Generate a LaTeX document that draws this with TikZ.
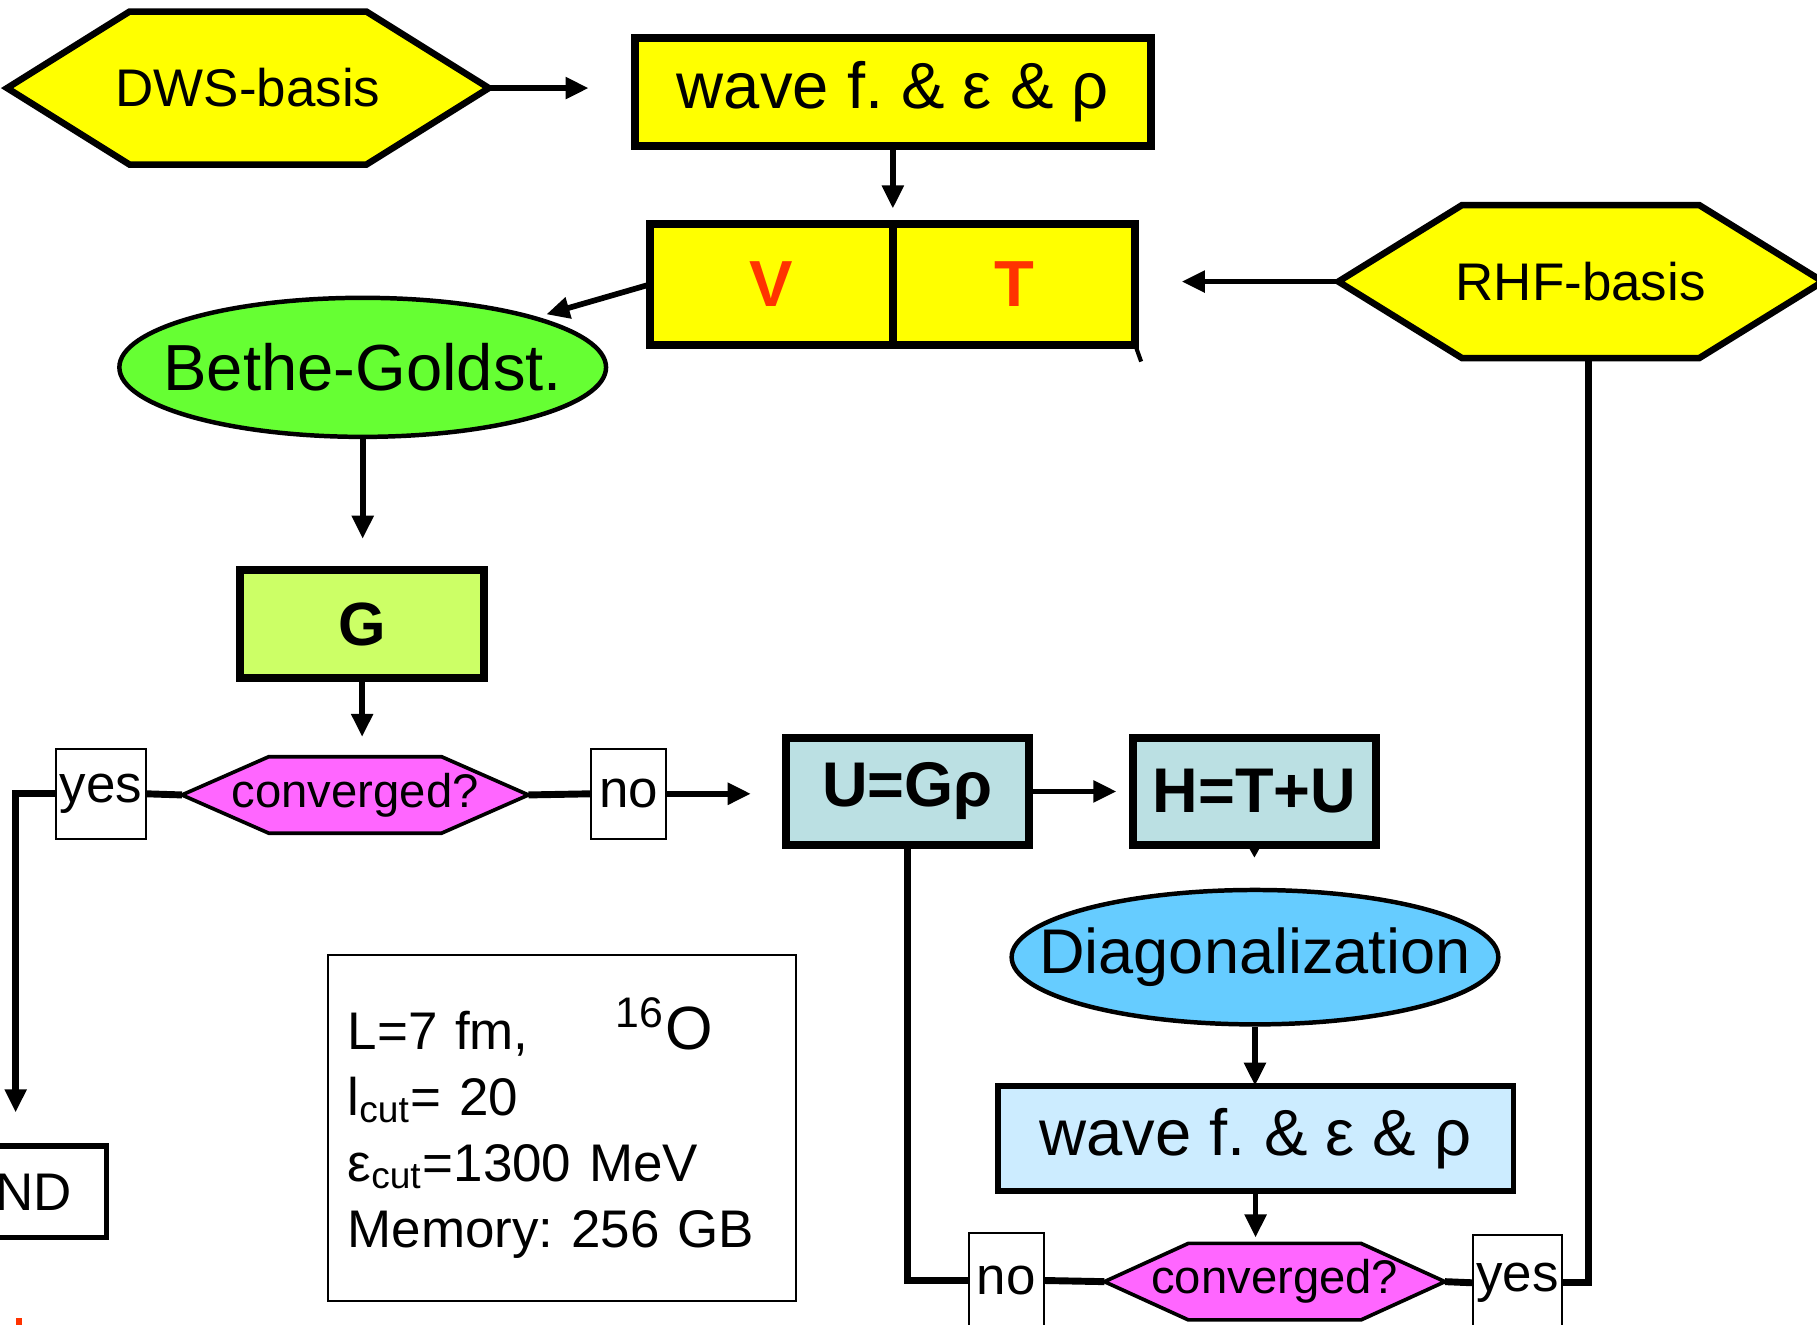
\documentclass[tikz,border=0pt]{standalone}
\usepackage{fontspec}
\setmainfont{Liberation Sans}
\frenchspacing
\usetikzlibrary{shapes.geometric,shapes.symbols,positioning,arrows.meta}

\definecolor{basisyellow}{HTML}{FFFF00}
\definecolor{potred}{HTML}{FF3300}
\definecolor{bggreen}{HTML}{66FF33}
\definecolor{glime}{HTML}{CCFF66}
\definecolor{convpink}{HTML}{FF66FF}
\definecolor{hamteal}{HTML}{BBE0E3}
\definecolor{diagblue}{HTML}{66CCFF}
\definecolor{wavesky}{HTML}{CCECFF}

\tikzset{
	flowpicture/.style = {
		font = \fontsize{13}{15}\selectfont,
		arrow/.style = {
			draw,
			line width = 1.4pt,
			-{Triangle[length=0.2cm, width=0.18cm]},
		},
		joint/.style = {
			draw,
			line width = 1.7pt,
		}
	},
	bigfont/.style = {
		font = \fontsize{16}{18}\selectfont
	},
	boxnode/.style = {
		rectangle,
		draw = black,
		line width = 2pt,
		inner sep = 0pt,
		outer sep = 0pt
	},
	hexnode/.style = {
		signal,
		signal to = east and west,
		draw = black,
		line width = 1.6pt,
		inner ysep = 0pt,
		outer sep = 0pt
	},
	basis/.style = {
		hexnode,
		fill = basisyellow,
		signal pointer angle = 64,
		minimum height = 1.32cm
	},
	query/.style = {
		hexnode,
		fill = convpink,
		line width = 0.9pt,
		signal pointer angle = 48,
		inner xsep = -0.32cm,
		minimum height = 0.66cm,
		font = \fontsize{11.6}{13}\selectfont
	},
	answer/.style = {
		rectangle,
		draw = black,
		fill = white,
		line width = 0.5pt,
		inner sep = 0pt,
		outer sep = 0pt,
		minimum height = 0.78cm
	},
	blob/.style = {
		ellipse,
		draw = black,
		line width = 1.1pt,
		inner xsep = -2cm,
		inner ysep = 0pt,
		minimum width = 4.2cm
	},
	potential/.style = {
		boxnode,
		fill = basisyellow,
		text = potred,
		minimum width = 2.095cm,
		minimum height = 1.05cm,
		font = \fontsize{16}{18}\selectfont\bfseries
	},
	field/.style = {
		boxnode,
		fill = hamteal,
		minimum width = 2.1cm,
		minimum height = 0.92cm,
		font = \fontsize{15.5}{18}\selectfont\bfseries
	}
}

\begin{document}
\begin{tikzpicture}[flowpicture]
	\useasboundingbox (0,0) rectangle (15.68,-11.43);

	% self-consistent G-matrix loop
	\node[basis, inner xsep = -0.12cm] (DWS) at (2.14,-0.76) {DWS-basis};
	\node[boxnode, bigfont, fill = basisyellow, minimum width = 4.45cm, minimum height = 0.93cm] (W1) at (7.705,-0.795) {wave f.\ \& ε \& ρ};
	\node[potential] (V) at (6.655,-2.455) {V};
	\node[potential, right = 0pt of V] (T) {T};
	\node[basis, inner xsep = -0.055cm, signal pointer angle = 63.5] (RHF) at (13.64,-2.43) {RHF-basis};
	\node[blob, bigfont, fill = bggreen, minimum height = 1.2cm] (BG) at (3.13,-3.17) {Bethe-Goldst.};
	\node[boxnode, fill = glime, minimum width = 2.11cm, minimum height = 0.93cm, font = \fontsize{15}{18}\selectfont\bfseries] (G) at (3.125,-5.385) {G};
	\node[query, signal pointer angle = 47.5] (C1) at (3.065,-6.86) {converged?};
	\node[answer, minimum width = 0.78cm] (Y1) at (0.87,-6.85) {yes};
	\node[answer, minimum width = 0.65cm] (N1) at (5.425,-6.85) {no};
	\node[boxnode, line width = 1.4pt, minimum width = 1.57cm, minimum height = 0.79cm] (E) at (0.135,-10.285) {END};

	% Hartree-Fock part
	\node[field] (U) at (7.83,-6.83) {U=Gρ};
	\node[field] (H) at (10.825,-6.83) {H=T+U};
	\node[blob, fill = diagblue, minimum height = 1.16cm, font = \fontsize{15.5}{18}\selectfont] (D) at (10.83,-8.26) {Diagonalization};
	\node[boxnode, bigfont, fill = wavesky, line width = 1.4pt, minimum width = 4.45cm, minimum height = 0.91cm] (W2) at (10.835,-9.825) {wave f.\ \& ε \& ρ};
	\node[query, signal pointer angle = 49] (C2) at (11.0,-11.06) {converged?};
	\node[answer, minimum width = 0.65cm, minimum height = 0.82cm] (N2) at (8.685,-11.05) {no};
	\node[answer, minimum width = 0.77cm, minimum height = 0.82cm] (Y2) at (13.095,-11.07) {yes};

	% run parameters
	\node[answer, align = left, text width = 3.7cm, inner xsep = 0.17cm, minimum height = 2.99cm, font = \fontsize{13}{16.2}\selectfont] (info) at (4.85,-9.735) {L=7 fm,\hspace{0.75cm}{\fontsize{15}{16}\selectfont\textsuperscript{16}O}\\
		l\textsubscript{cut}= 20\\
		ε\textsubscript{cut}=1300 MeV\\
		Memory: 256 GB};

	\draw[arrow, shorten >= 0.4cm] (DWS.east) -- (DWS.east -| W1.west);
	\draw[arrow, shorten >= 0.13cm] (W1.south) -- (W1.south |- V.north);
	\draw[arrow, shorten >= 0.08cm] (V.west) -- (BG);
	\draw[arrow, shorten >= 0.4cm] (RHF.west) -- (RHF.west -| T.east);
	\draw[line width = 1pt] (T.south east) -- ++(0.05,-0.14);
	\draw[arrow, shorten >= 0.27cm] (BG.south) -- (BG.south |- G.north);
	\draw[arrow, shorten >= 0.17cm] (G.south) -- (G.south |- C1.north);
	\draw[joint] (C1.west) -- (Y1.east);
	\draw[arrow, line width = 1.7pt, shorten >= 0.29cm] (Y1.west) -| (E.north);
	\draw[joint] (C1.east) -- (N1.west);
	\draw[arrow, shorten >= 0.3cm] (N1.east) -- (N1.east -| U.west);
	\draw[arrow, shorten >= 0.14cm] (U.east) -- (H.west);
	\draw[-{Triangle[length=0.11cm, width=0.12cm]}, line width = 0.5pt] (H.south) -- ++(0,-0.11);
	\draw[arrow] (D.south) -- (D.south |- W2.north);
	\draw[arrow, shorten >= 0.05cm] (W2.south) -- (W2.south |- C2.north);
	\draw[joint] (U.south) |- (N2.west);
	\draw[joint] (N2.east) -- (C2.west);
	\draw[joint] (C2.east) -- (Y2.west);
	\draw[joint] ([xshift = 0.07cm]RHF.south) |- (Y2.east);

	\fill[potred] (0.14,-11.37) rectangle (0.19,-11.43);
\end{tikzpicture}
\end{document}
